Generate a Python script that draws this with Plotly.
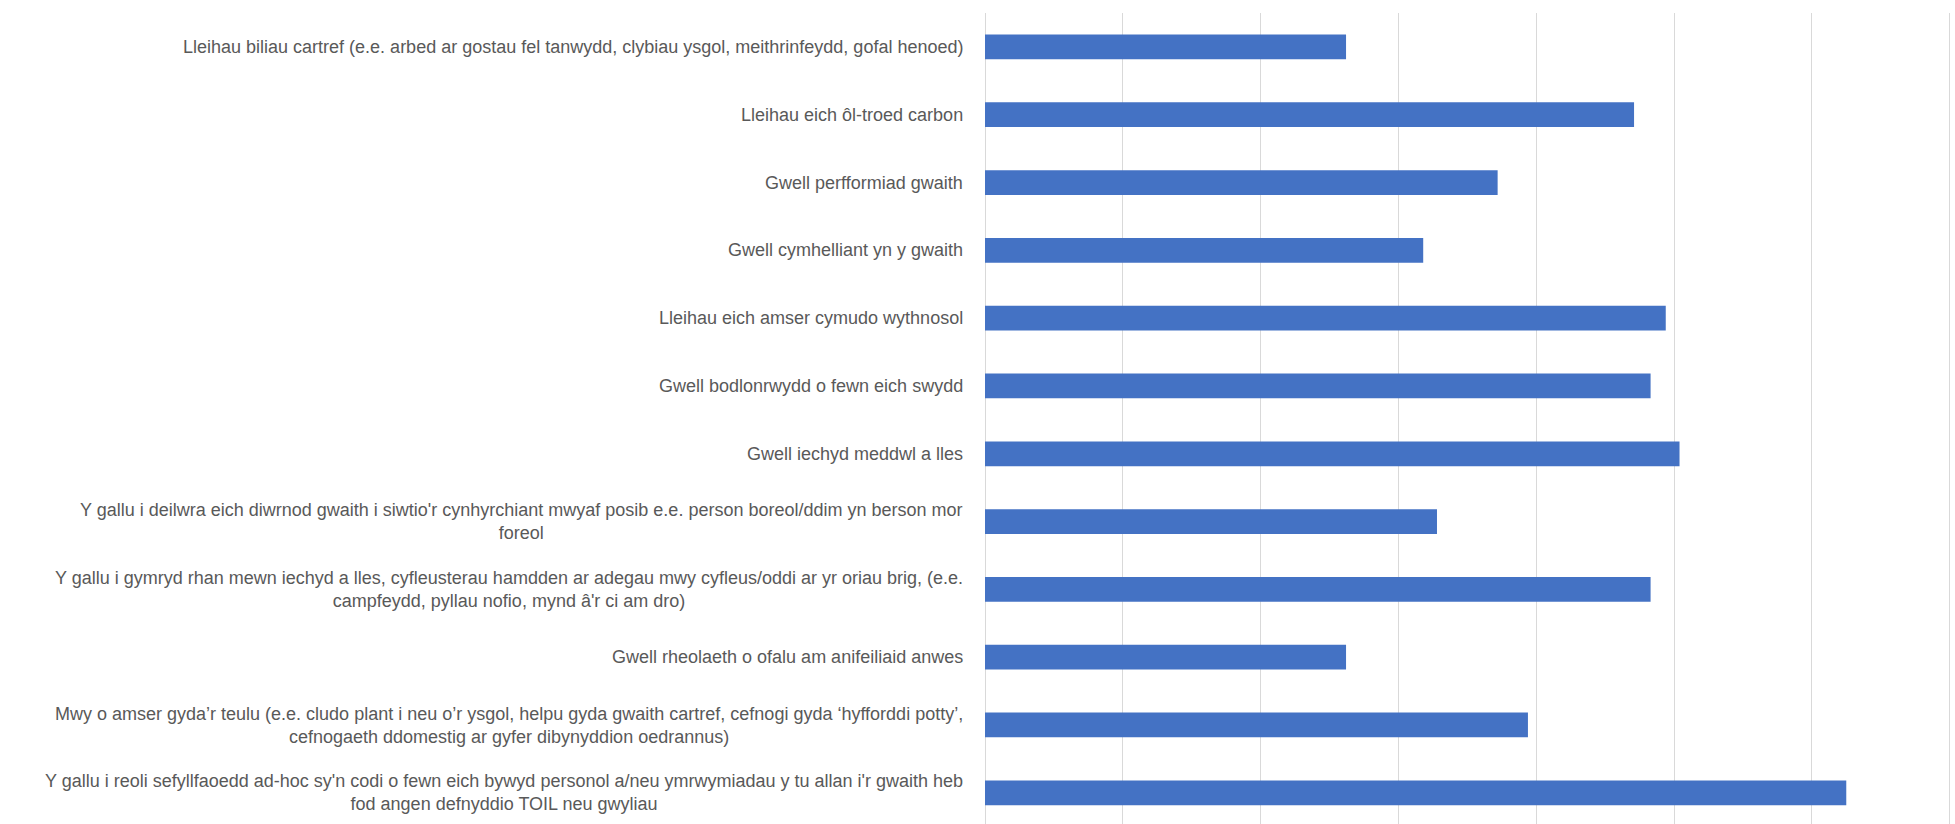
import plotly.graph_objects as go

categories = [
    "Lleihau biliau cartref (e.e. arbed ar gostau fel tanwydd, clybiau ysgol, meithrinfeydd, gofal henoed)",
    "Lleihau eich ôl-troed carbon",
    "Gwell perfformiad gwaith",
    "Gwell cymhelliant yn y gwaith",
    "Lleihau eich amser cymudo wythnosol",
    "Gwell bodlonrwydd o fewn eich swydd",
    "Gwell iechyd meddwl a lles",
    "Y gallu i deilwra eich diwrnod gwaith i siwtio'r cynhyrchiant mwyaf posib e.e. person boreol/ddim yn berson mor<br>foreol",
    "Y gallu i gymryd rhan mewn iechyd a lles, cyfleusterau hamdden ar adegau mwy cyfleus/oddi ar yr oriau brig, (e.e.<br>campfeydd, pyllau nofio, mynd â'r ci am dro)",
    "Gwell rheolaeth o ofalu am anifeiliaid anwes",
    "Mwy o amser gyda’r teulu (e.e. cludo plant i neu o’r ysgol, helpu gyda gwaith cartref, cefnogi gyda ‘hyfforddi potty’,<br>cefnogaeth ddomestig ar gyfer dibynyddion oedrannus)",
    "Y gallu i reoli sefyllfaoedd ad-hoc sy'n codi o fewn eich bywyd personol a/neu ymrwymiadau y tu allan i'r gwaith heb<br>fod angen defnyddio TOIL neu gwyliau",
]
values = [26.2, 47.1, 37.2, 31.8, 49.4, 48.3, 50.4, 32.8, 48.3, 26.2, 39.4, 62.5]

fig = go.Figure()
fig.add_trace(go.Bar(
    x=values,
    y=categories,
    orientation="h",
    marker=dict(color="#4472C4", line=dict(width=0)),
    width=0.365,
))

for c in categories:
    fig.add_annotation(
        x=0, y=c, xref="x", yref="y",
        text=c, showarrow=False,
        xanchor="right", yanchor="middle", align="center",
        xshift=-20,
        font=dict(family="Liberation Sans Narrow, Arial Narrow, Liberation Sans, sans-serif",
                  size=18, color="#595959"),
    )

fig.update_layout(
    width=1955, height=824,
    margin=dict(l=985, r=4, t=13, b=0, pad=0),
    paper_bgcolor="white", plot_bgcolor="white",
    showlegend=False,
    xaxis=dict(range=[0, 70.1], dtick=10, tick0=0, showgrid=True, gridcolor="#D9D9D9",
               gridwidth=1, zeroline=True, zerolinecolor="#D9D9D9", zerolinewidth=1,
               showticklabels=False, showline=False, ticks=""),
    yaxis=dict(type="category", categoryorder="array", categoryarray=categories,
               range=[11.46, -0.5], showticklabels=False, showgrid=False,
               zeroline=False, showline=False, ticks=""),
)

fig.write_html("out.html", config={"displayModeBar": False},
               post_script="document.body.style.margin='0';document.body.style.overflow='hidden';")
